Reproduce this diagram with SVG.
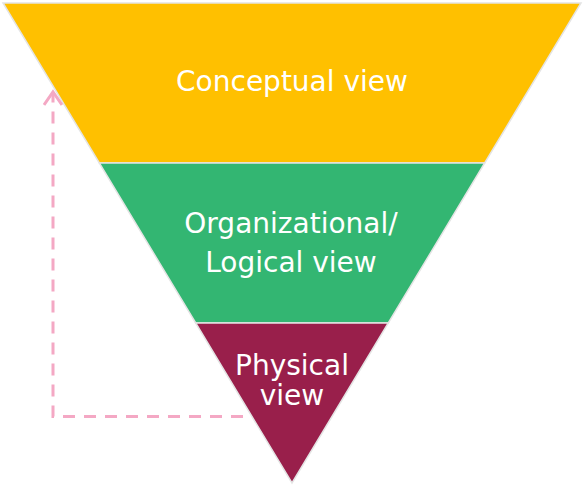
<svg xmlns="http://www.w3.org/2000/svg" width="585" height="486" viewBox="0 0 585 486">
  <style>
    .band { stroke: #e4e4e4; stroke-width: 1.5; stroke-linejoin: miter; }
    .label { font-family: "DejaVu Sans", Verdana, sans-serif; font-size: 28px; fill: #ffffff; text-anchor: middle; }
    .feedback { fill: none; stroke: #f4a8c4; stroke-width: 3; }
  </style>
  <defs>
    <!-- open chevron pointing along the path direction -->
    <marker id="chevron" viewBox="0 0 20 20" refX="16" refY="10" markerWidth="20" markerHeight="20" markerUnits="userSpaceOnUse" orient="auto">
      <path d="M3,1 L16,10 L3,19" fill="none" stroke="#f4a8c4" stroke-width="3"/>
    </marker>
  </defs>

  <!-- top band -->
  <g id="conceptual">
    <polygon class="band" fill="#ffc000" points="3,3 581,3 484.7,163 99.3,163"/>
    <text class="label" x="292" y="91">Conceptual view</text>
  </g>

  <!-- middle band -->
  <g id="logical">
    <polygon class="band" fill="#33b672" points="99.3,163 484.7,163 388.3,323 195.7,323"/>
    <text class="label" x="291" y="233">Organizational/</text>
    <text class="label" x="291" y="272">Logical view</text>
  </g>

  <!-- bottom band -->
  <g id="physical">
    <polygon class="band" fill="#991f4b" points="195.7,323 388.3,323 292,483"/>
    <text class="label" x="292" y="375">Physical</text>
    <text class="label" x="292" y="405">view</text>
  </g>

  <!-- feedback connector -->
  <g id="connectors">
    <path class="feedback" stroke-dasharray="12 9" d="M243,416.5 L53,416.5 L53,92" marker-end="url(#chevron)"/>
  </g>
</svg>
